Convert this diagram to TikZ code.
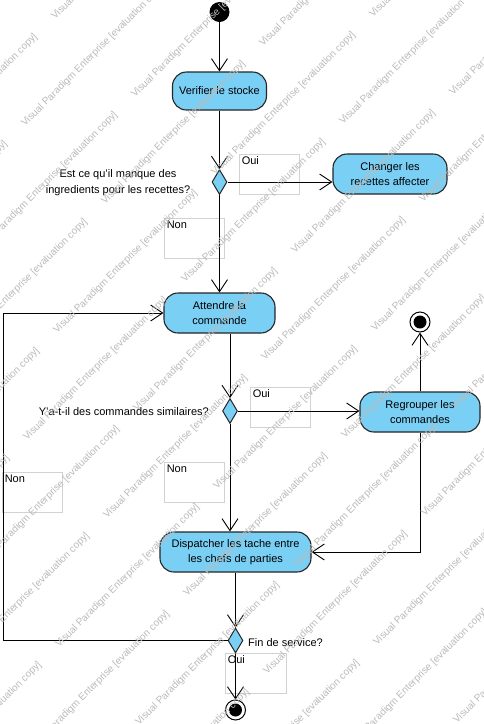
\documentclass[tikz,border=0pt]{standalone}
\usepackage{fontspec}
\setmainfont{Liberation Sans}
\usetikzlibrary{arrows.meta,shapes.geometric,calc}
\definecolor{actfill}{HTML}{7ACFF5}
\definecolor{wmgray}{HTML}{BBBBBB}
\definecolor{lblgray}{HTML}{D2D2D2}
\begin{document}
\begin{tikzpicture}[x=1pt,y=-1pt,
  action/.style={draw=black!85, line width=1.1pt, fill=actfill, rounded corners=14pt,
    minimum height=40pt, align=center, inner sep=0pt,
    font=\fontsize{11}{15}\selectfont},
  decision/.style={diamond, draw=black!85, line width=1pt, fill=actfill, inner sep=0pt,
    minimum width=15pt, minimum height=25pt},
  startnode/.style={circle, fill=black, inner sep=0pt, minimum size=20pt},
  endnode/.style={circle, draw=black, line width=1pt, fill=white, inner sep=0pt, minimum size=20pt,
    path picture={\fill[black] (path picture bounding box.center) circle (6.5pt);}},
  flow/.style={line width=0.9pt, -{Straight Barb[length=12pt,width=16pt]}},
  guard/.style={draw=lblgray, line width=0.8pt, minimum width=60pt, minimum height=40pt, inner sep=0pt},
  guardtext/.style={anchor=north west, inner sep=3pt, font=\fontsize{11}{13}\selectfont},
  question/.style={font=\fontsize{11}{16}\selectfont, inner sep=0pt},
  wmark/.style={anchor=base west, rotate=45, inner sep=0pt, text=wmgray,
    font=\fontsize{10}{12}\selectfont}
]
\useasboundingbox[fill=white] (0,0) rectangle (484,724);

% guard boxes
\node[guard, label={[guardtext]north west:Oui}] (g1) at (269,174) {};
\node[guard, label={[guardtext]north west:Non}] (g2) at (194,238) {};
\node[guard, label={[guardtext]north west:Oui}] (g3) at (280,407) {};
\node[guard, label={[guardtext]north west:Non}] (g4) at (194,482) {};
\node[guard, label={[guardtext]north west:Non}] (g5) at (32,492) {};
\node[guard, minimum width=61pt, label={[guardtext]north west:Oui}] (g6) at (255.5,673) {};

% nodes
\node[startnode] (init) at (219.5,12) {};
\node[action, minimum width=94pt, minimum height=38pt] (ver) at (219.5,91) {Verifier le stocke};
\node[decision] (d1) at (219.5,182) {};
\node[action, minimum width=114pt] (chg) at (390,174) {Changer les\\recettes affecter};
\node[action, minimum width=111pt] (att) at (219.5,313) {Attendre la\\commande};
\node[decision] (d2) at (230,411) {};
\node[action, minimum width=120pt] (reg) at (420,412) {Regrouper les\\commandes};
\node[endnode] (fin1) at (420,322) {};
\node[action, minimum width=151pt] (dis) at (235.5,552) {Dispatcher les tache entre\\les chefs de parties};
\node[decision] (d3) at (235.5,640.5) {};
\node[endnode] (fin2) at (235.5,710) {};
\coordinate (loop) at (3,640.5);

% questions
\node[question, align=center] (q1) at (118,183) {Est ce qu'il manque des\\ingredients pour les recettes?};
\node[question, anchor=east] (q2) at (209,412) {Y'a-t-il des commandes similaires?};
\node[question, anchor=west] (q3) at (248,643) {Fin de service?};

% connectors
\draw[flow] (init) -- (ver);
\draw[flow] (ver) -- (d1);
\draw[flow] (d1.east) -- (d1 -| chg.west);
\draw[flow] (d1) -- (att);
\draw[flow] (d2 |- att.south) -- (d2);
\draw[flow] (d2.east) -- (d2 -| reg.west);
\draw[flow] (reg) -- (fin1);
\draw[flow] (reg.south) |- (dis.east);
\draw[flow] (d2) -- (d2 |- dis.north);
\draw[flow] (dis) -- (d3);
\draw[flow] (d3.west) -- (loop) |- (att.west);
\draw[flow] (d3) -- (fin2);

% evaluation watermark: two interleaved diagonal grids, only the copies that reach the page
\begin{scope}
\clip (0,0) rectangle (484,724);
\foreach \i in {-6,...,3} {
  \foreach \j in {-2,...,10} {
    \pgfmathsetmacro\xa{55+158*\i+80*\j}
    \pgfmathsetmacro\ya{20-158*\i+78*\j}
    \pgfmathtruncatemacro\showa{(\xa>-135)&&(\xa<478)&&(\ya>8)&&(\ya<855)}
    \ifnum\showa=1
      \node[wmark] (wa-\i-\j) at (\xa,\ya) {Visual Paradigm Enterprise [evaluation copy]};
    \fi
    \pgfmathsetmacro\xb{25+158*\i+80*\j}
    \pgfmathsetmacro\yb{127-158*\i+78*\j}
    \pgfmathtruncatemacro\showb{(\xb>-135)&&(\xb<478)&&(\yb>8)&&(\yb<855)}
    \ifnum\showb=1
      \node[wmark] (wb-\i-\j) at (\xb,\yb) {Visual Paradigm Enterprise [evaluation copy]};
    \fi
  }
}
\end{scope}
\end{tikzpicture}
\end{document}
